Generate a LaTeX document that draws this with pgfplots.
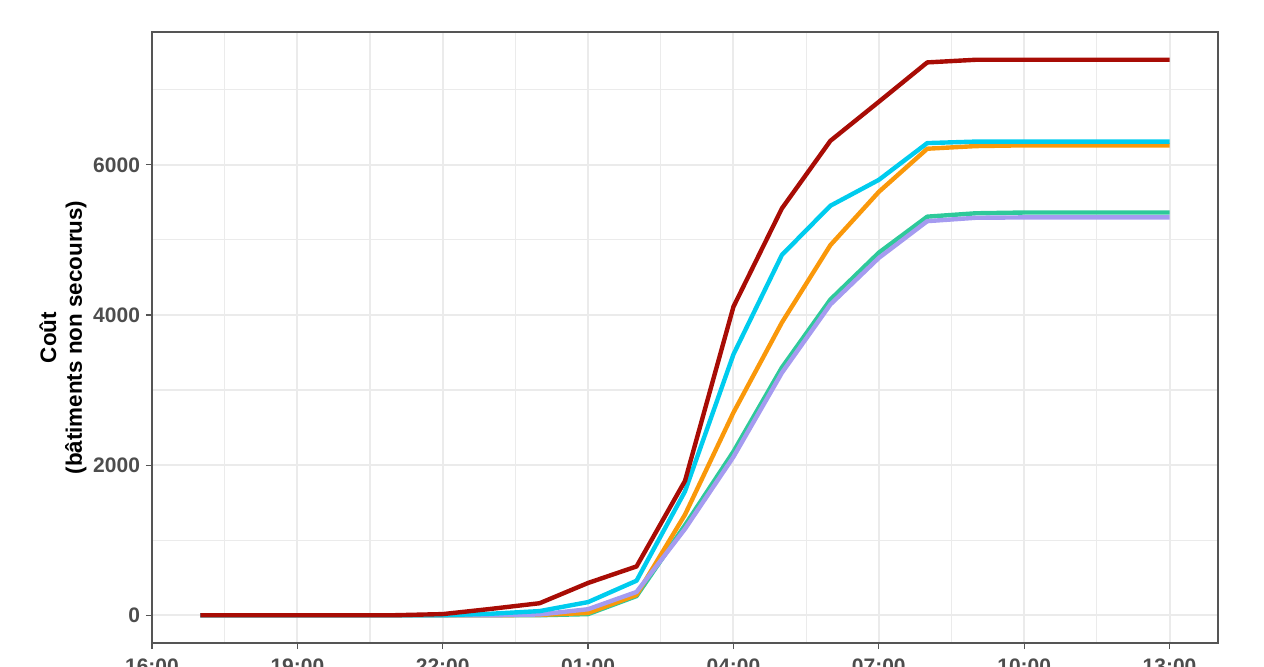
\documentclass[border=0pt]{standalone}
\usepackage{pgfplots}
\pgfplotsset{compat=1.18}
\usepackage{pgfplotstable}
\usepackage{fontspec}
\setmainfont{Liberation Sans}
\definecolor{cred}{RGB}{168,12,5}
\definecolor{ccyan}{RGB}{0,204,238}
\definecolor{corange}{RGB}{250,152,10}
\definecolor{cgreen}{RGB}{46,201,154}
\definecolor{cpurple}{RGB}{165,155,240}
\definecolor{gridc}{RGB}{235,235,235}
\definecolor{framec}{RGB}{85,85,85}
\definecolor{tickc}{RGB}{77,77,77}

\pgfplotstableread{
h   red   cyan  orange green purple
1   0     0     0      0     0
2   0     0     0      0     0
3   0     0     0      0     0
4   0     0     0      0     0
5   0     0     0      0     0
6   15    0     0      0     0
7   85    20    0      0     0
8   160   55    5      0     10
9   430   175   30     15    80
10  650   460   270    255   310
11  1790  1650  1340   1200  1150
12  4110  3475  2700   2180  2110
13  5420  4800  3900   3300  3230
14  6320  5455  4930   4205  4140
15  6840  5800  5640   4830  4760
16  7365  6290  6215   5310  5250
17  7400  6310  6250   5355  5295
18  7400  6310  6260   5365  5300
19  7400  6310  6260   5365  5300
20  7400  6310  6260   5365  5300
21  7400  6310  6260   5365  5300
}\datatable

\begin{document}
\begin{tikzpicture}
\begin{axis}[
  at={(0,0)}, anchor=south west,
  scale only axis, width=533bp, height=305.5bp,
  xmin=0, xmax=22, ymin=-370, ymax=7770,
  xtick={0,3,6,9,12,15,18,21},
  xticklabels={16:00,19:00,22:00,01:00,04:00,07:00,10:00,13:00},
  minor xtick={1.5,4.5,7.5,10.5,13.5,16.5,19.5},
  ytick={0,2000,4000,6000},
  minor ytick={1000,3000,5000,7000},
  xmajorgrids, ymajorgrids, xminorgrids, yminorgrids,
  major grid style={draw=gridc, line width=1bp},
  minor grid style={draw=gridc, line width=0.55bp},
  axis line style={draw=framec, line width=0.7bp},
  tick align=outside, xtick pos=left, ytick pos=left,
  major tick length=3bp, minor tick length=0pt,
  every tick/.style={draw=framec, line width=0.6bp},
  /pgf/number format/1000 sep={},
  /pgf/number format/assume math mode=true,
  ticklabel style={font=\fontsize{10.5bp}{12bp}\selectfont\bfseries, text=tickc},
  xticklabel style={yshift=-1.6bp},
  yticklabel style={xshift=0.5bp},
  ylabel={Coût\\(bâtiments non secourus)},
  ylabel style={at={(axis description cs:-0.0835,0.5)}, anchor=center, align=center,
    font=\fontsize{11.2bp}{12.8bp}\selectfont\bfseries},
  every axis plot/.append style={line width=2.2bp, line join=round, no markers},
]
\addplot[cgreen] table[x=h, y=green] {\datatable};
\addplot[corange] table[x=h, y=orange] {\datatable};
\addplot[cpurple] table[x=h, y=purple] {\datatable};
\addplot[ccyan] table[x=h, y=cyan] {\datatable};
\addplot[cred] table[x=h, y=red] {\datatable};
\end{axis}
\pgfresetboundingbox
\path[use as bounding box] (-76bp,-12bp) rectangle (556bp,321.5bp);
\end{tikzpicture}
\end{document}
